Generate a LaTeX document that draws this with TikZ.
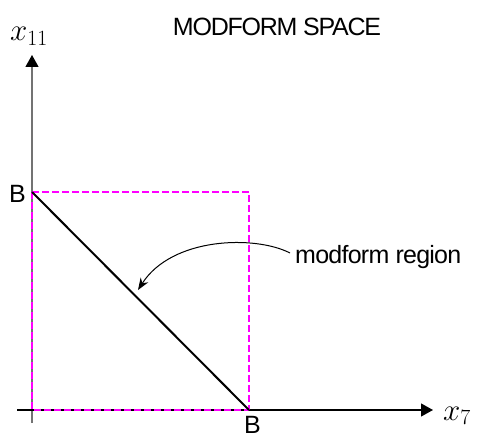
\RequirePackage{fix-cm}
\documentclass[tikz,border=0pt]{standalone}
\usepackage{fontspec}
\setmainfont{Liberation Sans}
\newfontfamily\titlefont[LetterSpace=-5]{Liberation Sans}
\newfontfamily\regionfont[LetterSpace=-3]{Liberation Sans}
\usetikzlibrary{arrows.meta}
\definecolor{mag}{RGB}{255,0,255}
\begin{document}
\begin{tikzpicture}[x=1pt,y=1pt,
  axis/.style={line width=1.2pt,-{Triangle[length=12pt,width=13pt,color=black]}},
  dashbox/.style={draw=mag,line width=2pt,dash pattern=on 6.5pt off 3.5pt},
  diag/.style={line width=2pt,black},
  lbl/.style={inner sep=0pt,font=\fontsize{25}{30}\selectfont},
  mathlbl/.style={inner sep=0pt,font=\fontsize{31}{36}\selectfont},
  pointer/.style={line width=1pt,-{Stealth[length=12pt,width=9pt]}}]
\useasboundingbox (0,0) rectangle (478,437);
\coordinate (O) at (32,27);
\coordinate (Btop) at (32,245);
\coordinate (Bright) at (249,27);
\coordinate (corner) at (249,245);
\coordinate (ybot) at (32,14);
\coordinate (ytop) at (32,382);
\coordinate (xleft) at (17,27);
\coordinate (xright) at (433,27);
\coordinate (cs) at (290,184);
\coordinate (ce) at (138,147);
% axes
\draw[axis,draw=black!55] (ybot) -- (ytop);
\draw[axis] (xleft) -- (xright);
% dashed square
\draw[dashbox] (Btop) -- (corner) -- (Bright);
\draw[dashbox] (Btop) -- (O) -- (Bright);
% diagonal
\draw[diag] (Btop) -- (Bright);
% labels
\node[mathlbl,anchor=base west] (x11) at (10,396) {$x_{11}$};
\node[mathlbl,anchor=base west] (x7) at (443,17) {$x_{7}$};
\node[lbl,font=\fontsize{25}{30}\titlefont] (title) at (277,410) {MODFORM SPACE};
\node[lbl] (bl) at (17.5,243) {B};
\node[lbl] (bb) at (252.5,12) {B};
\node[lbl,font=\fontsize{25}{30}\regionfont,anchor=base west] (region) at (295,173.5) {modform region};
% pointer
\draw[pointer] (cs) .. controls (255,202) and (172,200) .. (ce);
\end{tikzpicture}
\end{document}
